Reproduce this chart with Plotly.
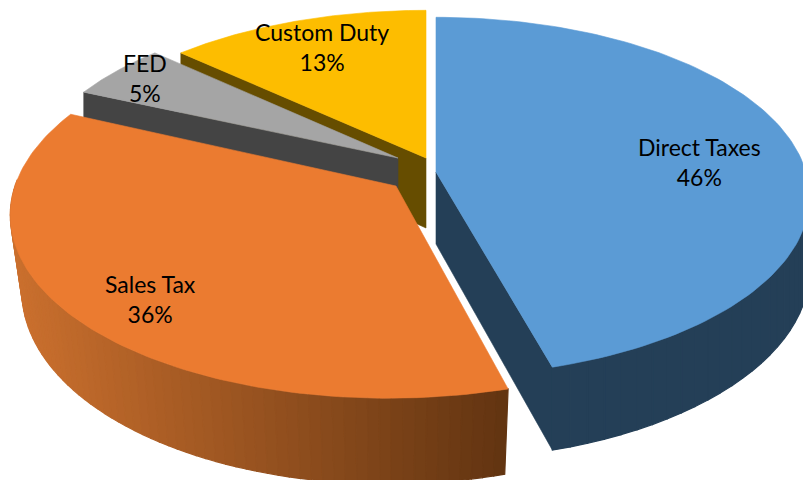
import numpy as np
import plotly.graph_objects as go

categories = ["Direct Taxes", "Sales Tax", "FED", "Custom Duty"]
shares = [45.6, 36.2, 5.2, 13.0]
top_colors = ["#5B9BD5", "#EB7B30", "#A5A5A5", "#FDBD00"]
wall_colors = ["#243F57", "#6A3710", "#444444", "#664D00"]

# exploded slice geometry (pixels on a 803x480 canvas)
apex_x = [436, 396, 398, 426]
apex_y = [172, 186, 158, 158]
radius_x = [370, 381, 365, 368]
radius_y = [176, 183, 168, 168]
skew = [0, -7, 0, 0]
depth = [72, 74, 70, 70]
bottom_shrink = [0.0, 0.03, 0.0, 0.0]
PERSPECTIVE = 0.1376
label_x = [699, 150, 145, 322]
label_y = [162, 299, 78, 47]

bounds = np.concatenate([[0], np.cumsum(shares)]) * 360 / sum(shares)


def project(i, theta_deg, r=1.0, z=0.0):
    t = np.radians(np.asarray(theta_deg, dtype=float))
    X = r * np.sin(t)
    Y = -r * np.cos(t)
    s = 1 / (1 - PERSPECTIVE * Y)
    sx = apex_x[i] + (X * radius_x[i] + skew[i] * Y) * s * (1 - bottom_shrink[i] * z)
    sy = apex_y[i] + (Y * radius_y[i] + z * depth[i]) * s
    return sx, sy


fig = go.Figure()


def poly(xs, ys, color, lw=0.6):
    fig.add_trace(go.Scatter(
        x=list(xs) + [xs[0]], y=list(ys) + [ys[0]], mode="lines", fill="toself",
        fillcolor=color, line=dict(color=color, width=lw), hoverinfo="skip",
        showlegend=False))


def top(i):
    th = np.linspace(bounds[i], bounds[i + 1], 120)
    x, y = project(i, th)
    ax, ay = project(i, 0.0, 0.0)
    poly(np.r_[ax, x], np.r_[ay, y], top_colors[i])


def radial_wall(i, theta):
    x0, y0 = project(i, theta, 0.0, 0.0)
    x1, y1 = project(i, theta, 1.0, 0.0)
    x2, y2 = project(i, theta, 1.0, 1.0)
    x3, y3 = project(i, theta, 0.0, 1.0)
    poly([x0, x1, x2, x3], [y0, y1, y2, y3], wall_colors[i])


def outer_wall(i, t0, t1, n, c_left, c_right):
    th = np.linspace(t0, t1, n + 1)
    xs = project(i, th)[0]
    lo, hi = xs.min(), xs.max()
    for a, b in zip(th[:-1], th[1:]):
        xa, ya = project(i, a)
        xb, yb = project(i, b)
        xc, yc = project(i, b, 1.0, 1.0)
        xd, yd = project(i, a, 1.0, 1.0)
        f = ((xa + xb) / 2 - lo) / (hi - lo)
        col = [int(round(c_left[k] + (c_right[k] - c_left[k]) * f)) for k in range(3)]
        poly([xa, xb, xc, xd], [ya, yb, yc, yd], f"rgb({col[0]},{col[1]},{col[2]})", lw=1.2)


# back to front
radial_wall(3, bounds[3])
top(3)
radial_wall(2, bounds[2])
top(2)
# wall strips run from the left side towards the front edge
outer_wall(1, 272, bounds[1], 70, (203, 112, 46), (98, 52, 17))
top(1)
radial_wall(0, bounds[1])
outer_wall(0, 88, bounds[1], 30, (36, 63, 87), (36, 63, 87))
top(0)

for name, share, lx, ly in zip(categories, shares, label_x, label_y):
    fig.add_annotation(x=lx, y=ly, text=f"{name}<br>{round(share)}%", showarrow=False,
                       font=dict(family="Lato, Carlito, sans-serif", size=23, color="#000000"),
                       align="center", xanchor="center", yanchor="middle")

fig.update_layout(
    width=803, height=480, margin=dict(l=0, r=0, t=0, b=0),
    paper_bgcolor="white", plot_bgcolor="white", showlegend=False,
    xaxis=dict(range=[0, 803], visible=False, fixedrange=True),
    yaxis=dict(range=[480, 0], visible=False, fixedrange=True),
)
fig.write_html("out.html", config={"displayModeBar": False},
               post_script="document.body.style.margin='0';document.documentElement.style.overflow='hidden';")
